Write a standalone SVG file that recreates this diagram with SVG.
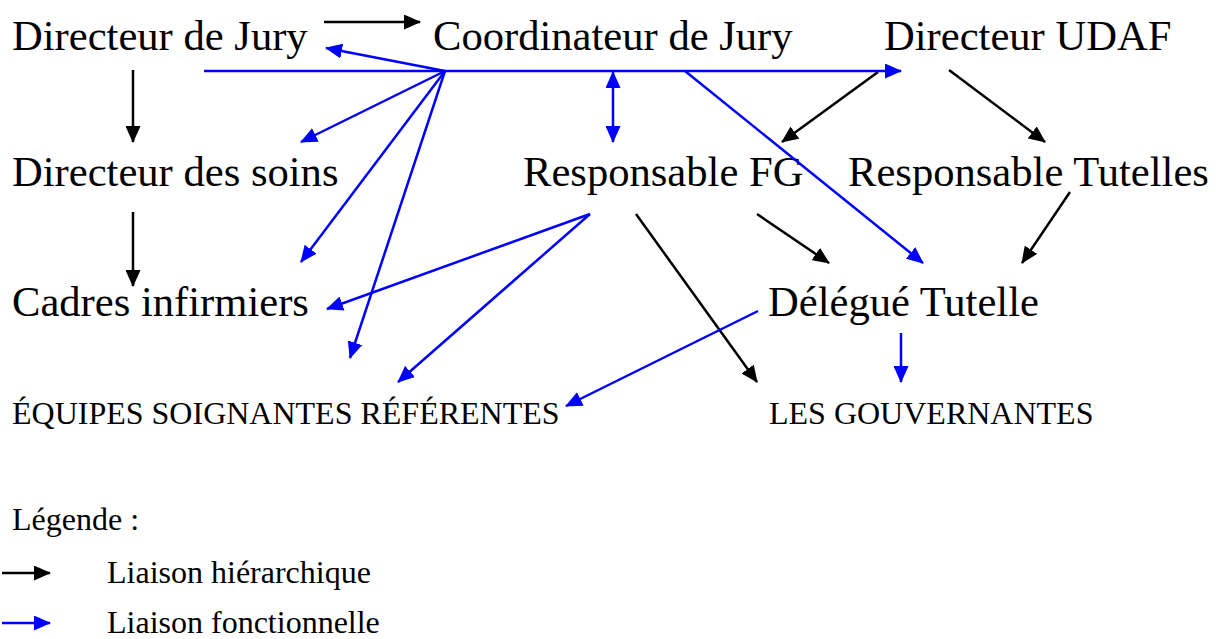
<svg xmlns="http://www.w3.org/2000/svg" width="1219" height="639" viewBox="0 0 1219 639">
<style>
text{font-family:"Liberation Serif","Times New Roman",serif;fill:#000}
.n{font-size:42.6px}
.s{font-size:32px}
.l{font-size:32px}
.h{stroke:#000;stroke-width:2.5;fill:none;marker-end:url(#ah)}
.f{stroke:#0000ff;stroke-width:2.5;fill:none;marker-end:url(#af)}
</style>
<defs>
<marker id="ah" markerUnits="userSpaceOnUse" markerWidth="17" markerHeight="15" refX="16" refY="7.5" orient="auto"><path d="M0,0 L17,7.5 L0,15 z" fill="#000"/></marker>
<marker id="af" markerUnits="userSpaceOnUse" markerWidth="17" markerHeight="15" refX="16" refY="7.5" orient="auto-start-reverse"><path d="M0,0 L17,7.5 L0,15 z" fill="#0000ff"/></marker>
</defs>
<rect width="1219" height="639" fill="#fff"/>
<g id="directeur-jury"><text class="n" x="12" y="50">Directeur de Jury</text></g>
<g id="coordinateur-jury"><text class="n" x="433" y="50">Coordinateur de Jury</text></g>
<g id="directeur-udaf"><text class="n" x="884" y="50">Directeur UDAF</text></g>
<g id="directeur-soins"><text class="n" x="12" y="186">Directeur des soins</text></g>
<g id="responsable-fg"><text class="n" x="523" y="186">Responsable FG</text></g>
<g id="responsable-tutelles"><text class="n" x="848" y="186">Responsable Tutelles</text></g>
<g id="cadres-infirmiers"><text class="n" x="12" y="316">Cadres infirmiers</text></g>
<g id="delegue-tutelle"><text class="n" x="768" y="316">Délégué Tutelle</text></g>
<g id="equipes"><text class="s" x="12" y="424">ÉQUIPES SOIGNANTES RÉFÉRENTES</text></g>
<g id="gouvernantes"><text class="s" x="769" y="424">LES GOUVERNANTES</text></g>
<g id="connectors">
<line class="h" x1="324" y1="22" x2="420" y2="22"/>
<line class="h" x1="133" y1="70" x2="133" y2="142"/>
<line class="h" x1="133" y1="212" x2="133" y2="286"/>
<line class="h" x1="878" y1="72" x2="782" y2="142"/>
<line class="h" x1="949" y1="70" x2="1045" y2="142"/>
<line class="h" x1="1070" y1="192" x2="1022" y2="263"/>
<line class="h" x1="757" y1="214" x2="829" y2="263"/>
<line class="h" x1="636" y1="214" x2="757" y2="382"/>
<line class="f" x1="204" y1="71" x2="901" y2="71"/>
<line class="f" x1="445" y1="71" x2="326" y2="48"/>
<line class="f" x1="445" y1="71" x2="301" y2="142"/>
<line class="f" x1="445" y1="71" x2="301" y2="262"/>
<line class="f" x1="445" y1="71" x2="350" y2="358"/>
<line class="f" x1="613" y1="72" x2="613" y2="142" marker-start="url(#af)"/>
<line class="f" x1="685" y1="71" x2="923" y2="263"/>
<line class="f" x1="590" y1="214" x2="327" y2="309"/>
<line class="f" x1="590" y1="214" x2="398" y2="382"/>
<line class="f" x1="758" y1="311" x2="566" y2="406"/>
<line class="f" x1="901" y1="333" x2="901" y2="382"/>
</g>
<g id="legende">
<text class="l" x="12" y="530">Légende :</text>
<line class="h" x1="2" y1="573" x2="50" y2="573"/>
<text class="l" x="107" y="583">Liaison hiérarchique</text>
<line class="f" x1="2" y1="623" x2="50" y2="623"/>
<text class="l" x="107" y="633">Liaison fonctionnelle</text>
</g>
</svg>
